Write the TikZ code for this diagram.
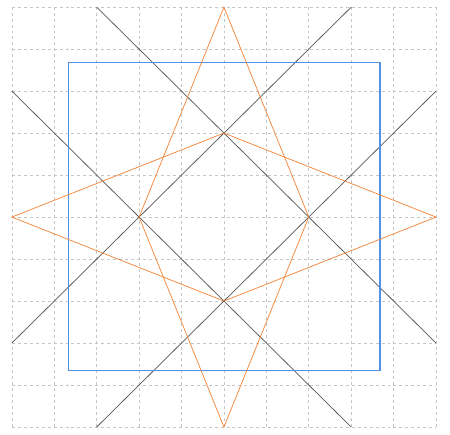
\documentclass[tikz,border=0pt]{standalone}
\usepackage{amsmath}
\usepackage{tikz}

\definecolor{starorange}{RGB}{242,135,60}
\definecolor{boxblue}{RGB}{80,145,228}

\begin{document}
\begin{tikzpicture}[x=1cm, y=0.99cm]
            \useasboundingbox (-5.28,-5.18) rectangle (5.33,5.17);

            \foreach \i in {-5,...,5} {
                \draw [gray!45, dash pattern=on 2pt off 2pt, line width=0.4pt] (\i,-5) -- (\i,5);
                \draw [gray!45, dash pattern=on 2pt off 2pt, line width=0.4pt] (-5,\i) -- (5,\i);
            }

            \coordinate (t) at (0, 5);
            \coordinate (b) at (0, -5);
            \coordinate (l) at (-5, 0);
            \coordinate (r) at (5, 0);
            \coordinate (it) at (0, 2);
            \coordinate (ib) at (0, -2);
            \coordinate (il) at (-2, 0);
            \coordinate (ir) at (2, 0);

            \draw [black!65, line width=0.5pt] (-3,5) -- (5,-3);
            \draw [black!65, line width=0.5pt] (-5,3) -- (3,-5);
            \draw [black!65, line width=0.5pt] (-5,-3) -- (3,5);
            \draw [black!65, line width=0.5pt] (-3,-5) -- (5,3);

            \draw [boxblue, line width=0.7pt] (-3.66,-3.66) rectangle (3.68,3.67);

            \draw [starorange, line width=0.5pt] (t) -- (il) -- (b) -- (ir) -- cycle;
            \draw [starorange, line width=0.5pt] (l) -- (it) -- (r) -- (ib) -- cycle;

            \end{tikzpicture}
\end{document}
